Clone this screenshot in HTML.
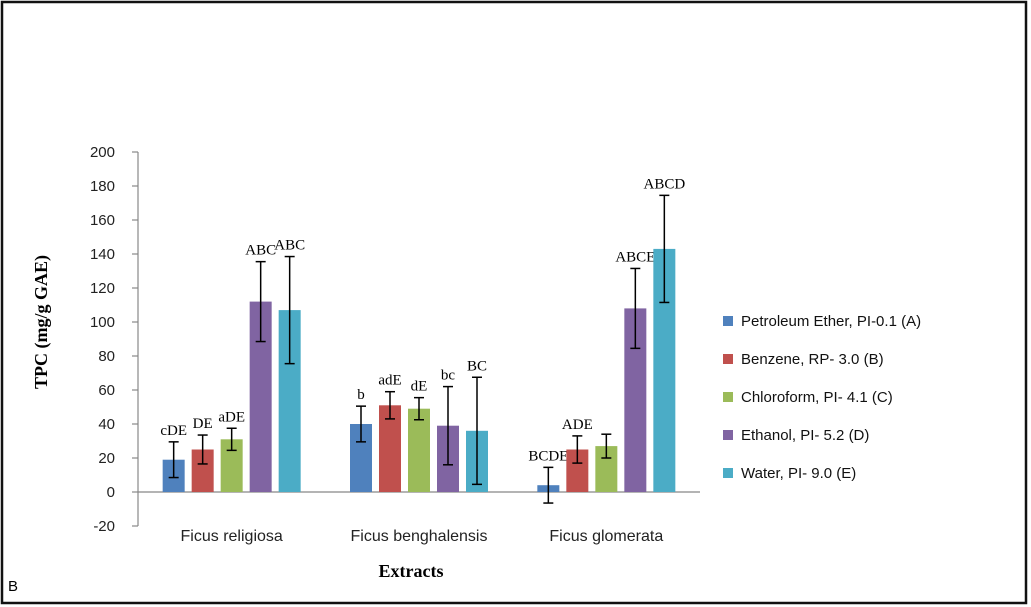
<!DOCTYPE html>
<html><head><meta charset="utf-8"><style>
html,body{margin:0;padding:0;background:#fff;}
svg{display:block;}
</style></head><body>
<svg id="chart" width="1031" height="607" viewBox="0 0 1031 607" xmlns="http://www.w3.org/2000/svg">
<rect x="2" y="2" width="1024" height="601" fill="#fff" stroke="#111" stroke-width="2.5"/>
<text x="8" y="591" font-family="Liberation Sans, sans-serif" font-size="15" fill="#000">B</text>
<g id="plot"></g>
<text transform="translate(47,322) rotate(-90)" text-anchor="middle" font-family="Liberation Serif, serif" font-weight="bold" font-size="18" fill="#000">TPC (mg/g GAE)</text>
<text x="411" y="577" text-anchor="middle" font-family="Liberation Serif, serif" font-weight="bold" font-size="18" fill="#000">Extracts</text>
<g id="legend"></g>
</svg>
<script>
const categories = ["Ficus religiosa", "Ficus benghalensis", "Ficus glomerata"];
const seriesNames = ["Petroleum Ether, PI-0.1 (A)", "Benzene, RP- 3.0 (B)", "Chloroform, PI- 4.1 (C)", "Ethanol, PI- 5.2 (D)", "Water, PI- 9.0 (E)"];
const colors = ["#4F81BD", "#C0504D", "#9BBB59", "#8064A2", "#4BACC6"];
const petroleum = [19, 40, 4];
const benzene = [25, 51, 25];
const chloroform = [31, 49, 27];
const ethanol = [112, 39, 108];
const water = [107, 36, 143];
const errPetroleum = [10.5, 10.5, 10.5];
const errBenzene = [8.5, 8, 8];
const errChloroform = [6.5, 6.5, 7];
const errEthanol = [23.5, 23, 23.5];
const errWater = [31.5, 31.5, 31.5];
const letters = [["cDE","b","BCDE"],["DE","adE","ADE"],["aDE","dE",""],["ABC","bc","ABCE"],["ABC","BC","ABCD"]];
const yTicks = [-20, 0, 20, 40, 60, 80, 100, 120, 140, 160, 180, 200];

const values = [petroleum, benzene, chloroform, ethanol, water];
const errs = [errPetroleum, errBenzene, errChloroform, errEthanol, errWater];
const NS = "http://www.w3.org/2000/svg";
const x0 = 138, x1 = 700, yMin = -20, yMax = 200, yTop = 152, yBot = 526;
function yScale(v){ return yBot - (v - yMin) / (yMax - yMin) * (yBot - yTop); }
const groupW = (x1 - x0) / categories.length;
const barW = 22, pitch = 29;
function xBar(ci, si){ return x0 + groupW * (ci + 0.5) + (si - 2) * pitch - barW / 2; }
function mk(tag, attrs, parent){ const e = document.createElementNS(NS, tag); for (const k in attrs) e.setAttribute(k, attrs[k]); parent.appendChild(e); return e; }
const plot = document.getElementById("plot");
const ya = mk("line", {x1:x0, y1:yTop, x2:x0, y2:yBot, stroke:"#888", "stroke-width":1.2}, plot);


yTicks.forEach(t => {
  const y = yScale(t);
  const tk = mk("line", {x1:x0-6, y1:y, x2:x0, y2:y, stroke:"#888", "stroke-width":1.2}, plot);
  
  
  const tl = mk("text", {x:x0-23, y:y+5, "text-anchor":"end", "font-family":"Liberation Sans, sans-serif", "font-size":15, fill:"#222"}, plot);
  tl.textContent = t;
  
  
});
const xa = mk("line", {x1:x0, y1:yScale(0), x2:x1, y2:yScale(0), stroke:"#888", "stroke-width":1.2}, plot);


categories.forEach((c, ci) => {
  const t = mk("text", {x:x0 + groupW*(ci+0.5), y:541, "text-anchor":"middle", "font-family":"Liberation Sans, sans-serif", "font-size":16, fill:"#222"}, plot);
  t.textContent = c;
  
  
});
values.forEach((arr, si) => {
  arr.forEach((v, ci) => {
    const bx = xBar(ci, si);
    const y = yScale(Math.max(v,0)), y0 = yScale(Math.min(v,0));
    const r = mk("rect", {x:bx, y:y, width:barW, height:y0-y, fill:colors[si]}, plot);
    
    
    const cx = bx + barW/2, e = errs[si][ci];
    const eh = yScale(v+e), el = yScale(v-e);
    const g = mk("g", {stroke:"#000", "stroke-width":1.5}, plot);
    
    
    mk("line", {x1:cx, y1:eh, x2:cx, y2:el}, g);
    mk("line", {x1:cx-5, y1:eh, x2:cx+5, y2:eh}, g);
    mk("line", {x1:cx-5, y1:el, x2:cx+5, y2:el}, g);
    const lab = letters[si][ci];
    if (lab) {
      const t = mk("text", {x:cx, y:eh-7, "text-anchor":"middle", "font-family":"Liberation Serif, serif", "font-size":15, fill:"#000"}, plot);
      t.textContent = lab;
      
      
    }
  });
});
const legend = document.getElementById("legend");
seriesNames.forEach((n, i) => {
  const y = 321 + i*38;
  const g = mk("g", {}, legend);
  
  
  mk("rect", {x:723, y:y-5, width:10, height:10, fill:colors[i]}, g);
  const t = mk("text", {x:741, y:y+5, "font-family":"Liberation Sans, sans-serif", "font-size":15, fill:"#111"}, g);
  t.textContent = n;
});
</script>
</body></html>
